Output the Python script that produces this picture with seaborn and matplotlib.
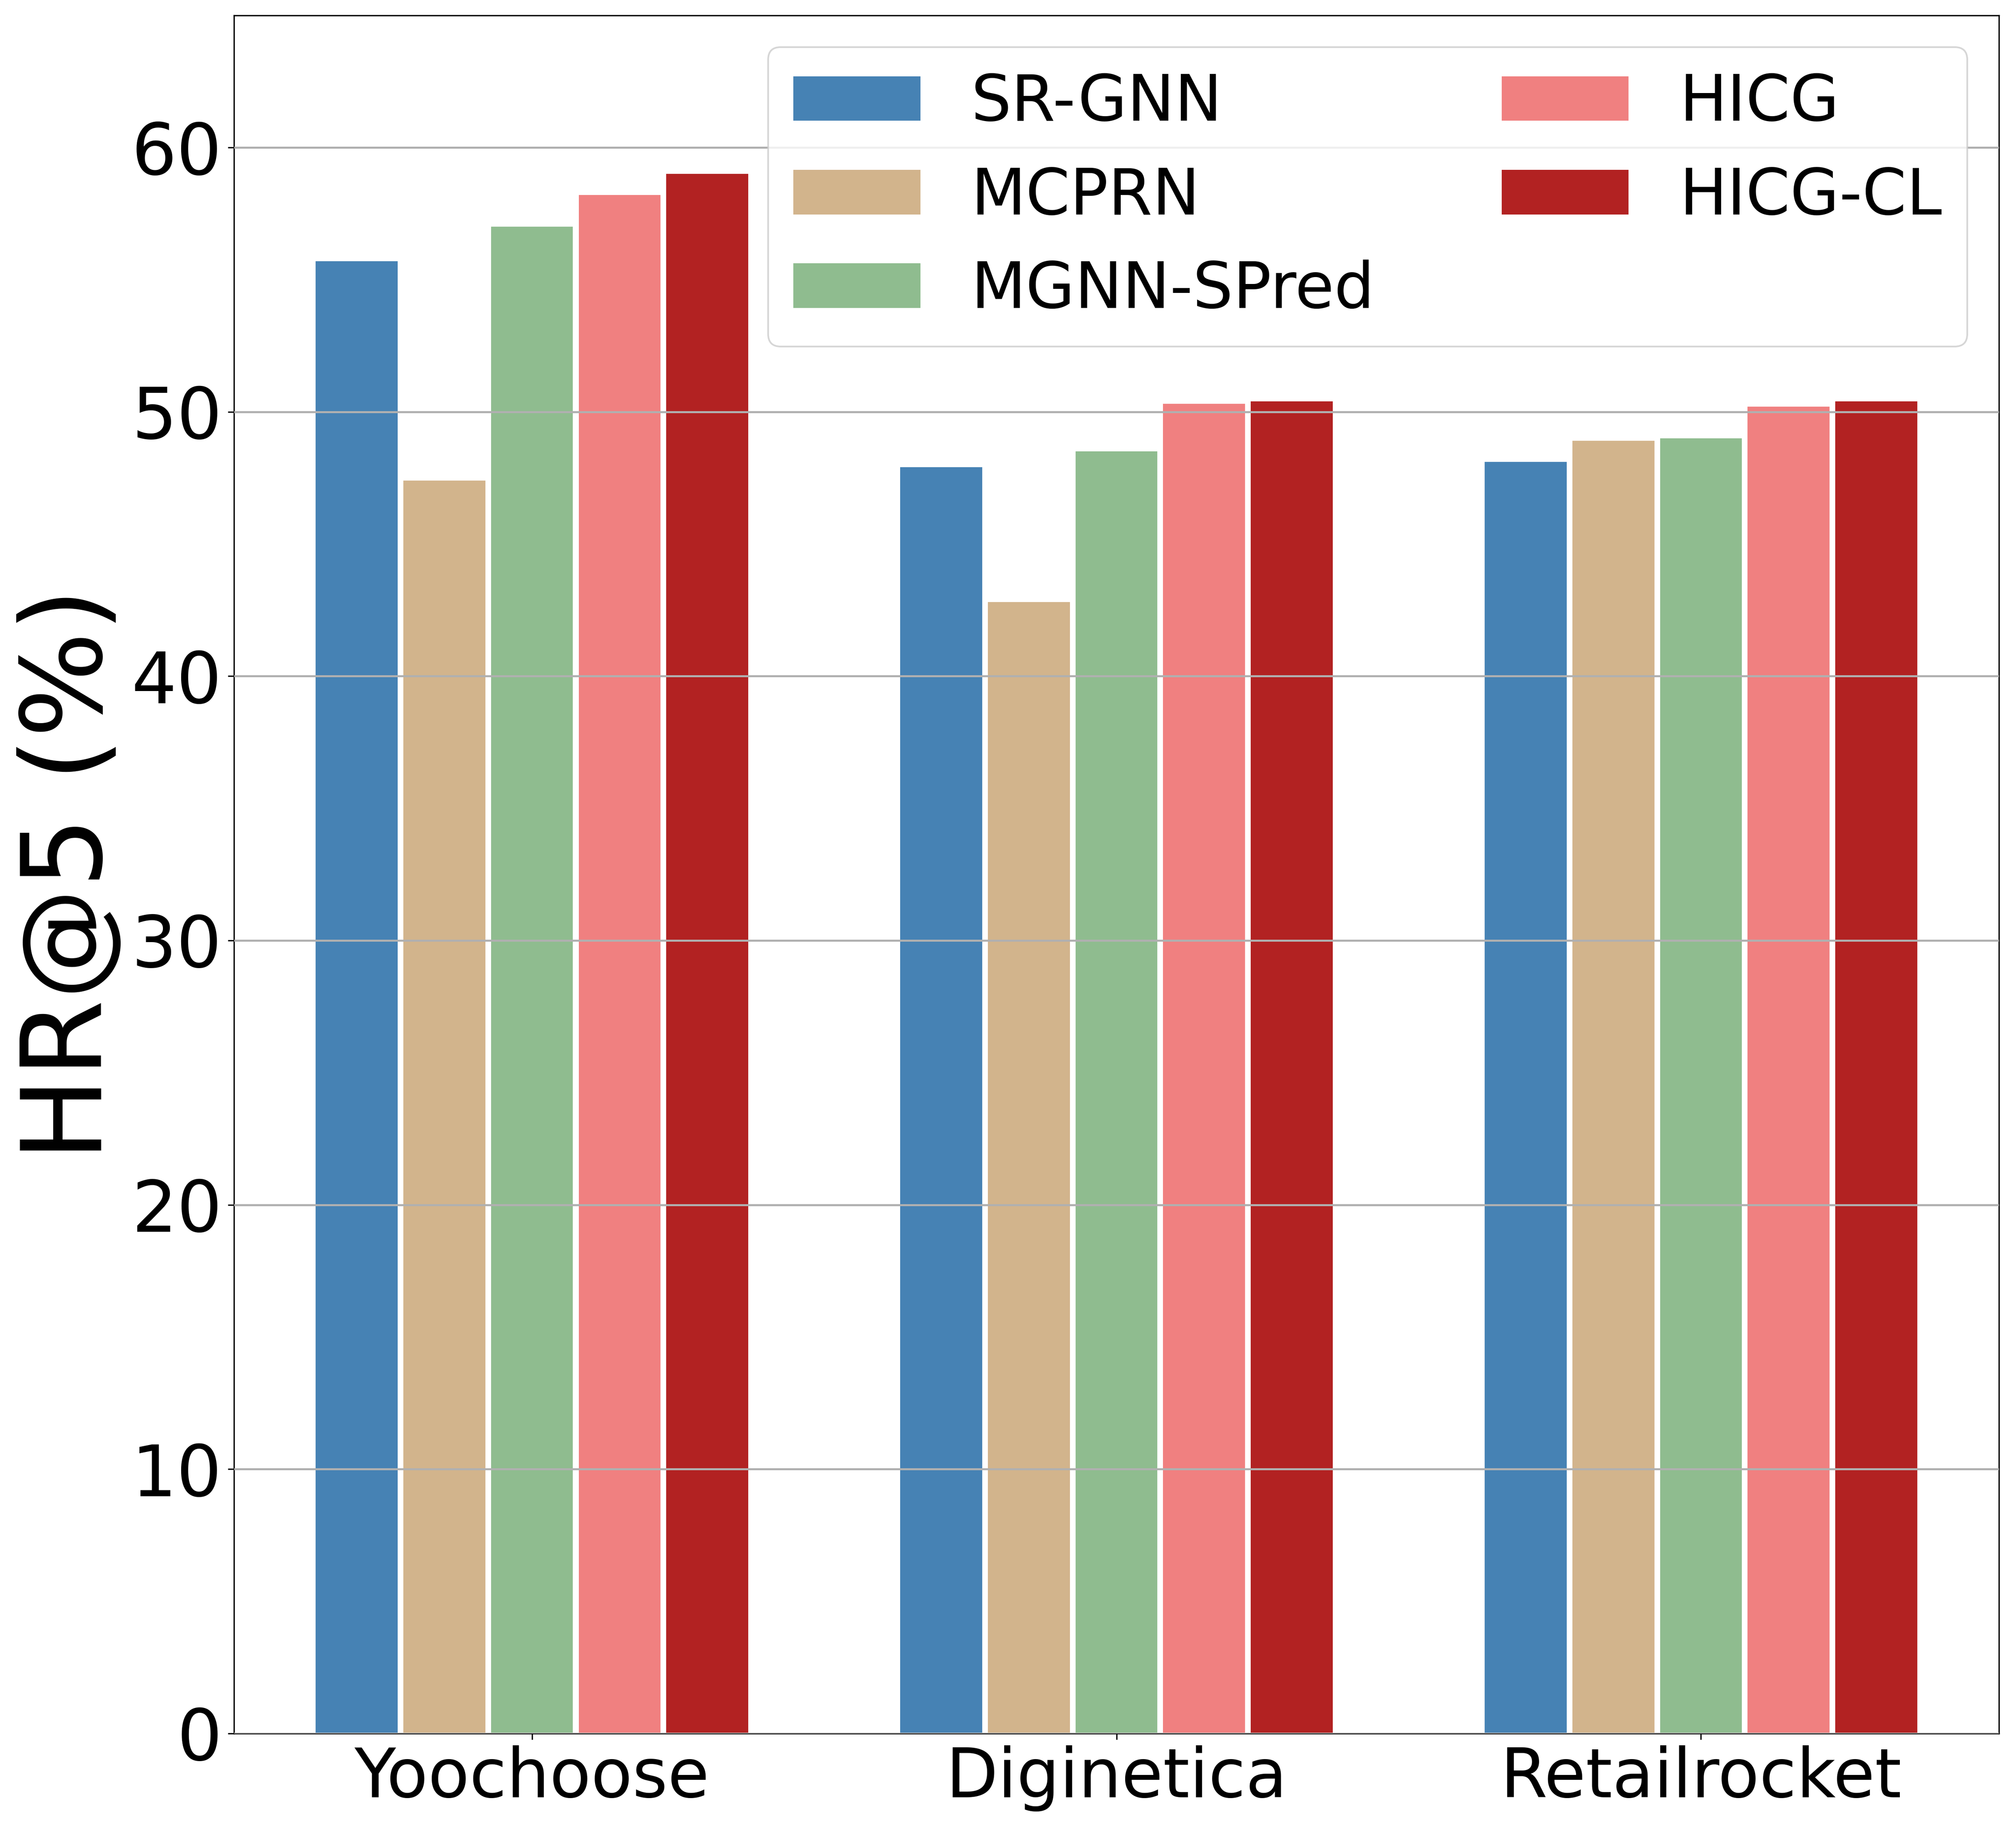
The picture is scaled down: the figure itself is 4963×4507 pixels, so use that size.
import pandas as pd
import seaborn as sns
import matplotlib.pyplot as plt

# HR@5 (%) per dataset and model
datasets = ["Yoochoose", "Diginetica", "Retailrocket"]
models = ["SR-GNN", "MCPRN", "MGNN-SPred", "HICG", "HICG-CL"]
sr_gnn = [55.7, 47.9, 48.1]
mcprn = [47.4, 42.8, 48.9]
mgnn_spred = [57.0, 48.5, 49.0]
hicg = [58.2, 50.3, 50.2]
hicg_cl = [59.0, 50.4, 50.4]
colors = ["#4682B4", "#D2B48C", "#8FBC8F", "#F08080", "#B22222"]

series = [sr_gnn, mcprn, mgnn_spred, hicg, hicg_cl]
rows = []
for model, vals in zip(models, series):
    for ds, v in zip(datasets, vals):
        rows.append({"dataset": ds, "model": model, "hr": v})
df = pd.DataFrame(rows)

fig = plt.figure(figsize=(4963 / 300, 4507 / 300), dpi=300)
ax = fig.add_axes([0.116, 0.0533, 0.8756, 0.9383])

sns.barplot(data=df, x="dataset", y="hr", hue="model", order=datasets,
            hue_order=models, palette=colors, width=0.75, gap=0.065,
            saturation=1, ax=ax, errorbar=None)

ax.set_ylim(0, 65)
ax.set_xlim(-0.51, 2.51)
ax.set_xlabel("")
ax.set_ylabel("HR@5 (%)", fontsize=66)
ax.tick_params(axis="x", labelsize=40)
ax.tick_params(axis="y", labelsize=42)
ax.yaxis.grid(True, color="#b0b0b0", linewidth=1.2)
ax.xaxis.grid(False)
ax.set_axisbelow(False)

handles, labels = ax.get_legend_handles_labels()
ax.legend(handles, labels, ncol=2, fontsize=37.5, loc="upper right")

fig.savefig("out.png", dpi=300)
